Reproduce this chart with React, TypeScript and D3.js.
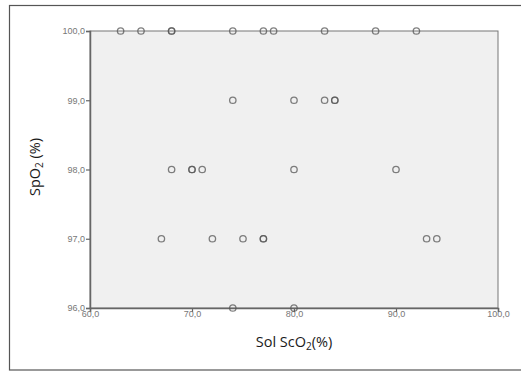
import React, {useEffect, useRef} from 'react'
import * as d3 from 'd3'

// Sol ScO2 (%) vs SpO2 (%) - one entry per patient
const solScO2 = [
  63, 65, 68, 68, 74, 77, 78, 83, 88, 92,
  74, 80, 83, 84, 84,
  68, 70, 70, 71, 80, 90,
  67, 72, 75, 77, 77, 93, 94,
  74, 80
];
const spO2 = [
  100, 100, 100, 100, 100, 100, 100, 100, 100, 100,
  99, 99, 99, 99, 99,
  98, 98, 98, 98, 98, 98,
  97, 97, 97, 97, 97, 97, 97,
  96, 96
];
const xTicks = [60, 70, 80, 90, 100];
const yTicks = [96, 97, 98, 99, 100];

const fmt = (v: number) => d3.format('.1f')(v).replace('.', ',');

export default function App() {
  const ref = useRef<SVGSVGElement>(null);

  useEffect(() => {
    const svg = d3.select(ref.current);
    svg.selectAll('*').remove();

    const left = 90, right = 498, top = 31, bottom = 308;

    // outer frame
    svg.append('rect')
      .attr('x', 9.5).attr('y', 5.5)
      .attr('width', 530).attr('height', 364.5)
      .attr('fill', '#fff')
      .attr('stroke', '#555')
      .attr('stroke-width', 1.2);

    const x = d3.scaleLinear().domain([60, 100]).range([left, right]);
    const y = d3.scaleLinear().domain([96, 100]).range([bottom, top]);

    // plot area
    svg.append('rect')
      .attr('x', left).attr('y', top)
      .attr('width', right - left).attr('height', bottom - top)
      .attr('fill', '#f0f0f0')
      .attr('stroke', '#777')
      .attr('stroke-width', 1);

    const xAxis = d3.axisBottom(x).tickValues(xTicks).tickFormat(d => fmt(+d)).tickSizeOuter(0).tickSize(4);
    const yAxis = d3.axisLeft(y).tickValues(yTicks).tickFormat(d => fmt(+d)).tickSizeOuter(0).tickSize(4);

    const gx = svg.append('g')
      .attr('transform', 'translate(0,' + bottom + ')')
      .call(xAxis);
    const gy = svg.append('g')
      .attr('transform', 'translate(' + left + ',0)')
      .call(yAxis);

    [gx, gy].forEach(g => {
      g.select('.domain').attr('stroke', '#666').attr('stroke-width', 1.5);
      g.selectAll('.tick line').attr('stroke', '#666').attr('stroke-width', 1.2);
      g.selectAll('.tick text')
        .attr('fill', '#777')
        .attr('font-size', '9px')
        .attr('font-family', 'Liberation Sans, Arial, sans-serif');
    });
    gx.selectAll('.tick text').attr('dy', '0.6em').attr('y', 4);
    gy.selectAll('.tick text').attr('x', -5);

    // points
    svg.append('g')
      .selectAll('circle')
      .data(solScO2.map((v, i) => ({x: v, y: spO2[i]})))
      .enter()
      .append('circle')
      .attr('cx', d => x(d.x))
      .attr('cy', d => y(d.y))
      .attr('r', 3.2)
      .attr('fill', 'none')
      .attr('stroke', '#555')
      .attr('stroke-opacity', 0.75)
      .attr('stroke-width', 1.3);

    // axis titles
    const xt = svg.append('text')
      .attr('x', (left + right) / 2)
      .attr('y', 347)
      .attr('text-anchor', 'middle')
      .attr('font-size', '14.5px')
      .attr('font-family', 'Open Sans, sans-serif')
      .attr('fill', '#1a1a1a');
    xt.append('tspan').text('Sol ScO');
    xt.append('tspan').attr('font-size', '10px').attr('dy', 3).text('2');
    xt.append('tspan').attr('dy', -3).text('(%)');

    const yt = svg.append('text')
      .attr('transform', 'translate(40,167) rotate(-90)')
      .attr('text-anchor', 'middle')
      .attr('font-size', '14.5px')
      .attr('font-family', 'Open Sans, sans-serif')
      .attr('fill', '#1a1a1a');
    yt.append('tspan').text('SpO');
    yt.append('tspan').attr('font-size', '10px').attr('dy', 3).text('2');
    yt.append('tspan').attr('dy', -3).text(' (%)');
  }, []);

  return (
    <svg ref={ref} width={521} height={372}
      style={{position: 'absolute', left: 0, top: 0}} />
  );
}
